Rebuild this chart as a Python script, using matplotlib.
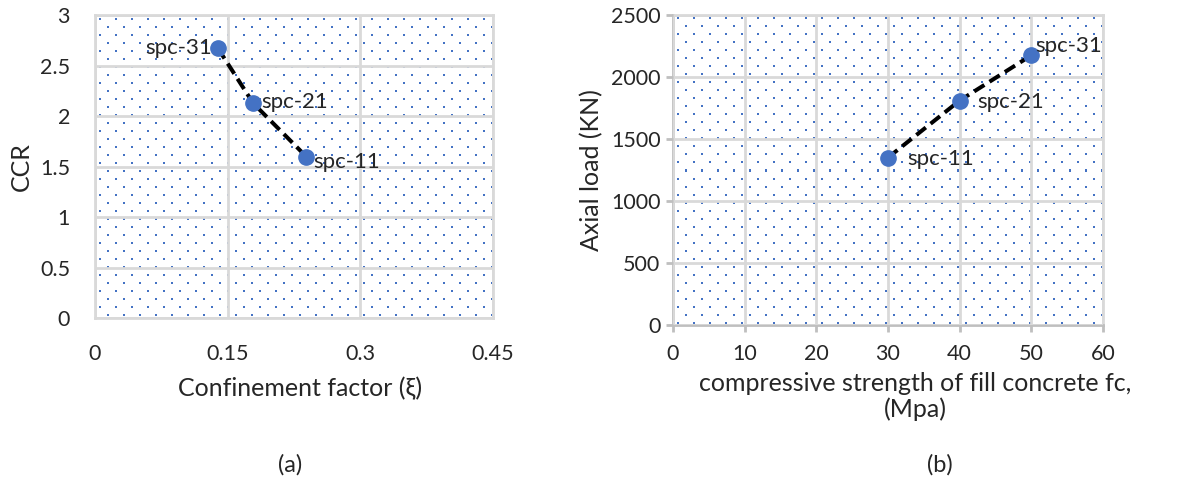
import numpy as np
import matplotlib
matplotlib.use("Agg")
import matplotlib.pyplot as plt

# (a) confinement factor vs CCR
xi_vals = [0.139, 0.179, 0.239]
ccr_vals = [2.67, 2.125, 1.597]
labels_a = ["spc-31", "spc-21", "spc-11"]

# (b) fill concrete strength vs axial load
fc_vals = [30, 40, 50]
load_vals = [1350, 1810, 2175]
labels_b = ["spc-11", "spc-21", "spc-31"]

BLUE = "#4472C4"
GRID = "#d9d9d9"
TXT = "#262626"

plt.rcParams["font.family"] = ["Lato", "DejaVu Sans"]
plt.rcParams["font.size"] = 14

fig = plt.figure(figsize=(11.85, 4.94), dpi=100)
W, H = 1185, 494


def px_axes(l, t, r, b):
    return fig.add_axes([l / W, 1 - b / H, (r - l) / W, (b - t) / H])


def dot_background(ax):
    # light dotted texture like the Excel pattern fill
    bb = ax.get_window_extent()
    w, h = int(round(bb.width)), int(round(bb.height))
    img = np.ones((h, w, 3))
    col = np.array([0.27, 0.45, 0.77])
    for r in range(3, h - 1, 8):
        start = 4 if (r // 8) % 2 == 0 else 12
        for c in range(start, w - 1, 16):
            img[r:r + 2, c:c + 2] = col
    ax.imshow(img, extent=(0, 1, 0, 1), transform=ax.transAxes,
              interpolation="nearest", aspect="auto", zorder=0)


# ---- (a)
ax1 = px_axes(95, 15, 493, 318)
dot_background(ax1)
ax1.set_xlim(0, 0.45)
ax1.set_ylim(0, 3)
ax1.set_xticks([0, 0.15, 0.3, 0.45])
ax1.set_xticklabels(["0", "0.15", "0.3", "0.45"])
ax1.set_yticks([0, 0.5, 1, 1.5, 2, 2.5, 3])
ax1.set_yticklabels(["0", "0.5", "1", "1.5", "2", "2.5", "3"])
ax1.grid(True, color=GRID, lw=2, zorder=1)
ax1.set_axisbelow(False)
for s in ax1.spines.values():
    s.set_color(GRID)
    s.set_linewidth(2)
ax1.tick_params(length=0, pad=18, colors=TXT, labelsize=15.5)
ax1.tick_params(axis="x", pad=19)
ax1.plot(xi_vals, ccr_vals, color="black", lw=2.9, ls=(0, (3, 1.5)), zorder=3)
ax1.plot(xi_vals, ccr_vals, ls="none", marker="o", ms=11, color=BLUE, zorder=4)
ax1.set_ylabel("CCR", color=TXT, fontsize=18)
ax1.yaxis.set_label_coords(-0.186, 0.5)
ax1.yaxis.label.set_va("center")
ax1.set_xlabel("Confinement factor (\u03be)", color=TXT, fontsize=18)
ax1.xaxis.set_label_coords(0.515, -0.231)
ax1.xaxis.label.set_va("center")
offs_a = [(-4, 0, "right", "center"), (6, 1, "left", "center"), (5, -4, "left", "center")]
for x, y, t, (dx, dy, ha, va) in zip(xi_vals, ccr_vals, labels_a, offs_a):
    ax1.annotate(t, (x, y), xytext=(dx, dy), textcoords="offset points",
                 ha=ha, va=va, fontsize=16, color=TXT, zorder=5)

# ---- (b)
ax2 = px_axes(673, 15, 1103, 325)
dot_background(ax2)
ax2.set_xlim(0, 60)
ax2.set_ylim(0, 2500)
ax2.set_xticks(range(0, 61, 10))
ax2.set_yticks(range(0, 2501, 500))
ax2.grid(True, color=GRID, lw=2, zorder=1)
ax2.set_axisbelow(False)
for s in ax2.spines.values():
    s.set_color(GRID)
    s.set_linewidth(2)
ax2.spines["left"].set_color("#bfbfbf")
ax2.spines["bottom"].set_color("#bfbfbf")
ax2.tick_params(length=5, width=2, color="#bfbfbf", direction="out", colors=TXT, labelsize=15.5)
ax2.tick_params(axis="x", pad=9)
ax2.tick_params(axis="y", pad=4)
for tl in ax2.get_xticklines() + ax2.get_yticklines():
    tl.set_color("#bfbfbf")
ax2.plot(fc_vals, load_vals, color="black", lw=2.9, ls=(0, (3, 1.5)), zorder=3)
ax2.plot(fc_vals, load_vals, ls="none", marker="o", ms=11, color=BLUE, zorder=4)
ax2.set_ylabel("Axial load (KN)", color=TXT, fontsize=18)
ax2.yaxis.set_label_coords(-0.19, 0.5)
ax2.yaxis.label.set_va("center")
ax2.set_xlabel("compressive strength of fill concrete fc,\n(Mpa)", color=TXT,
               fontsize=18, linespacing=1.15)
ax2.xaxis.set_label_coords(0.563, -0.15)
ax2.xaxis.label.set_va("top")
offs_b = [(14, -1, "left", "center"), (13, -1, "left", "center"), (3, 7, "left", "center")]
for x, y, t, (dx, dy, ha, va) in zip(fc_vals, load_vals, labels_b, offs_b):
    ax2.annotate(t, (x, y), xytext=(dx, dy), textcoords="offset points",
                 ha=ha, va=va, fontsize=16, color=TXT, zorder=5)

fig.text(290 / W, 1 - 465 / H, "(a)", ha="center", va="center", fontsize=17, color=TXT)
fig.text(940 / W, 1 - 465 / H, "(b)", ha="center", va="center", fontsize=17, color=TXT)

fig.savefig("out.png", dpi=100, facecolor="white")
